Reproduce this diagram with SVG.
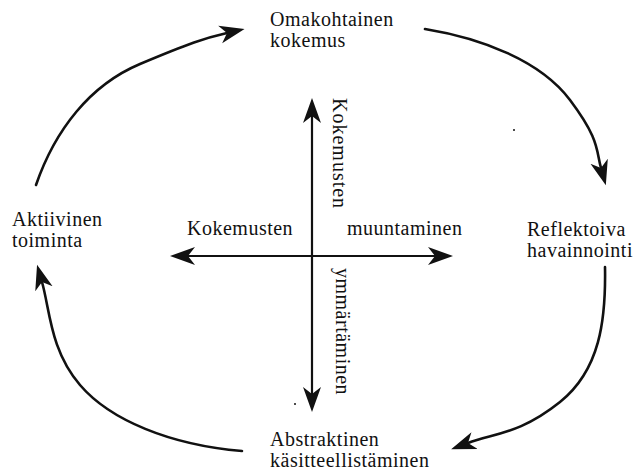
<svg xmlns="http://www.w3.org/2000/svg" width="637" height="471" viewBox="0 0 637 471">
<style>
.lbl{font-family:"Liberation Serif","Times New Roman",serif;font-size:20px;letter-spacing:0.5px;fill:#111}
.cyc{fill:none;stroke:#111;stroke-width:2.6;stroke-linecap:round}
.ax{fill:none;stroke:#111;stroke-width:2.2}
</style>
<defs>
<marker id="ah" markerUnits="userSpaceOnUse" markerWidth="30" markerHeight="22" viewBox="0 -11 30 22" refX="7" refY="0" orient="auto-start-reverse">
<path d="M25,0 L0,-9 L7,0 L0,9 Z" fill="#111"/>
</marker>
</defs>
<g id="connectors">
<path class="cyc" d="M36,185 C55,130 90,85 140,64 S205,38 227,33" marker-end="url(#ah)"/>
<path class="cyc" d="M425,29 C480,38 540,60 570,100 S596,150 601,168" marker-end="url(#ah)"/>
<path class="cyc" d="M605,267 C606,320 600,370 560,402 S495,433 468,443" marker-end="url(#ah)"/>
<path class="cyc" d="M242,451 C170,445 110,420 80,385 S50,310 42,282" marker-end="url(#ah)"/>
<path id="axis-h" class="ax" d="M188,256 L435,256" marker-start="url(#ah)" marker-end="url(#ah)"/>
<path id="axis-v" class="ax" d="M312,116 L312,394" marker-start="url(#ah)" marker-end="url(#ah)"/>
</g>
<g id="omakohtainen">
<text class="lbl" x="270" y="26">Omakohtainen</text>
<text class="lbl" x="270" y="47">kokemus</text>
</g>
<g id="reflektoiva">
<text class="lbl" x="527" y="236">Reflektoiva</text>
<text class="lbl" x="527" y="257">havainnointi</text>
</g>
<g id="abstraktinen">
<text class="lbl" x="270" y="446">Abstraktinen</text>
<text class="lbl" x="270" y="467">käsitteellistäminen</text>
</g>
<g id="aktiivinen">
<text class="lbl" x="12" y="226">Aktiivinen</text>
<text class="lbl" x="12" y="247">toiminta</text>
</g>
<g id="axis-labels">
<text class="lbl" x="187" y="235">Kokemusten</text>
<text class="lbl" x="347" y="235">muuntaminen</text>
<text class="lbl" transform="translate(333,98) rotate(90)" style="letter-spacing:1px">Kokemusten</text>
<text class="lbl" transform="translate(336,268) rotate(90)">ymmärtäminen</text>
</g>
<g id="specks" fill="#111">
<circle cx="514" cy="130" r="1"/>
<circle cx="295" cy="404" r="1"/>
</g>
</svg>
